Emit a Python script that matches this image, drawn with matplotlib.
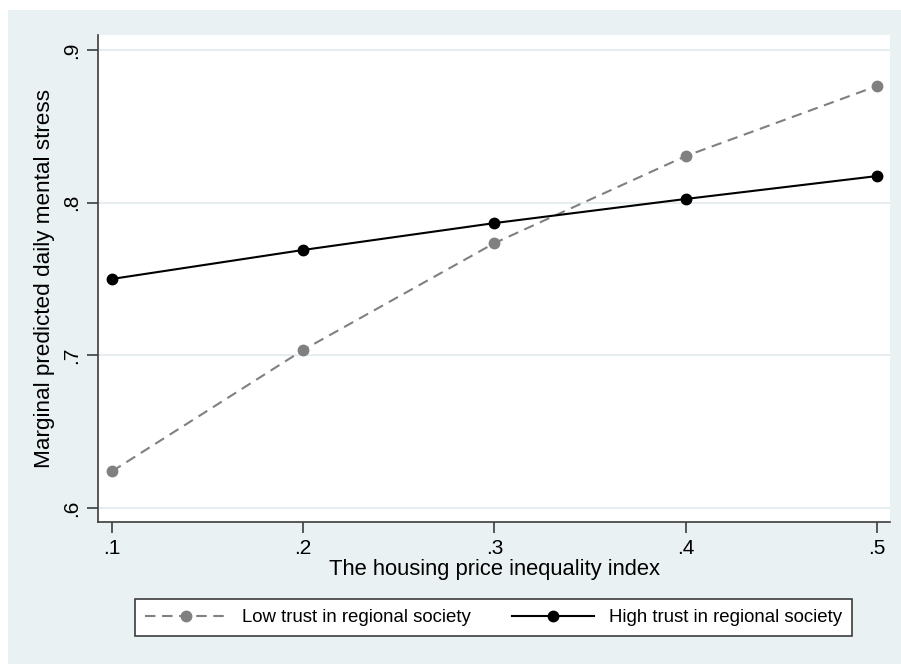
import matplotlib
matplotlib.use("Agg")
import matplotlib.pyplot as plt
from matplotlib.patches import Rectangle

plt.rcParams['font.family'] = ['Liberation Sans', 'DejaVu Sans']

# Housing price inequality index values
inequality = [0.1, 0.2, 0.3, 0.4, 0.5]
# Marginal predicted daily mental stress by trust level
low_trust = [0.624, 0.7035, 0.7735, 0.8305, 0.8764]
high_trust = [0.750, 0.769, 0.7866, 0.8024, 0.8174]

series_labels = ["Low trust in regional society", "High trust in regional society"]
x_ticks = [0.1, 0.2, 0.3, 0.4, 0.5]
x_tick_labels = [".1", ".2", ".3", ".4", ".5"]
y_ticks = [0.6, 0.7, 0.8, 0.9]
y_tick_labels = [".6", ".7", ".8", ".9"]

W, H = 901, 664
bg = "#EAF1F3"
grid_c = "#E0EAEE"
axis_c = "#3C3C3C"

fig = plt.figure(figsize=(W / 100, H / 100), dpi=100, facecolor="white")
fig.patches.append(Rectangle((8 / W, 0), 1 - 8 / W, 1 - 10 / H,
                             transform=fig.transFigure, facecolor=bg,
                             edgecolor="none", zorder=-10))

ax = fig.add_axes([98 / W, 1 - 522 / H, (890 - 98) / W, (522 - 35) / H])
ax.set_facecolor("white")

ax.plot(inequality, low_trust, color="#808080", lw=1.5,
        linestyle=(0, (5, 3.2)), marker="o", markersize=7.5,
        label=series_labels[0], zorder=3)
ax.plot(inequality, high_trust, color="black", lw=1.5,
        marker="o", markersize=7.5, label=series_labels[1], zorder=4)

ax.set_xlim(0.0927, 0.5068)
ax.set_ylim(0.5908, 0.9098)

ax.set_xticks(x_ticks)
ax.set_xticklabels(x_tick_labels)
ax.set_yticks(y_ticks)
ax.set_yticklabels(y_tick_labels, rotation=90, va="center")

ax.grid(axis="y", color=grid_c, lw=1.2)
ax.set_axisbelow(True)

for side in ["top", "right"]:
    ax.spines[side].set_visible(False)
for side in ["left", "bottom"]:
    ax.spines[side].set_color(axis_c)
    ax.spines[side].set_linewidth(1.2)

ax.tick_params(axis="both", direction="out", length=8, width=1.2,
               color=axis_c, labelsize=15, labelcolor="black")
ax.tick_params(axis="x", pad=4)
ax.tick_params(axis="y", pad=4)

ax.set_xlabel("The housing price inequality index", fontsize=15.8, labelpad=1)
ax.set_ylabel("Marginal predicted daily mental stress", fontsize=16.2, labelpad=5)

leg = fig.legend(loc="center", bbox_to_anchor=((135 + 852) / 2 / W, 1 - 617.5 / H),
                 ncol=2, fontsize=13.4, frameon=True, fancybox=False,
                 handlelength=4.4, handletextpad=0.8, columnspacing=2.2,
                 borderpad=0.55, numpoints=1)
frame = leg.get_frame()
frame.set_edgecolor(axis_c)
frame.set_linewidth(1.2)
frame.set_facecolor("white")
frame.set_alpha(1)

fig.savefig("out.png", dpi=100, facecolor=fig.get_facecolor())
